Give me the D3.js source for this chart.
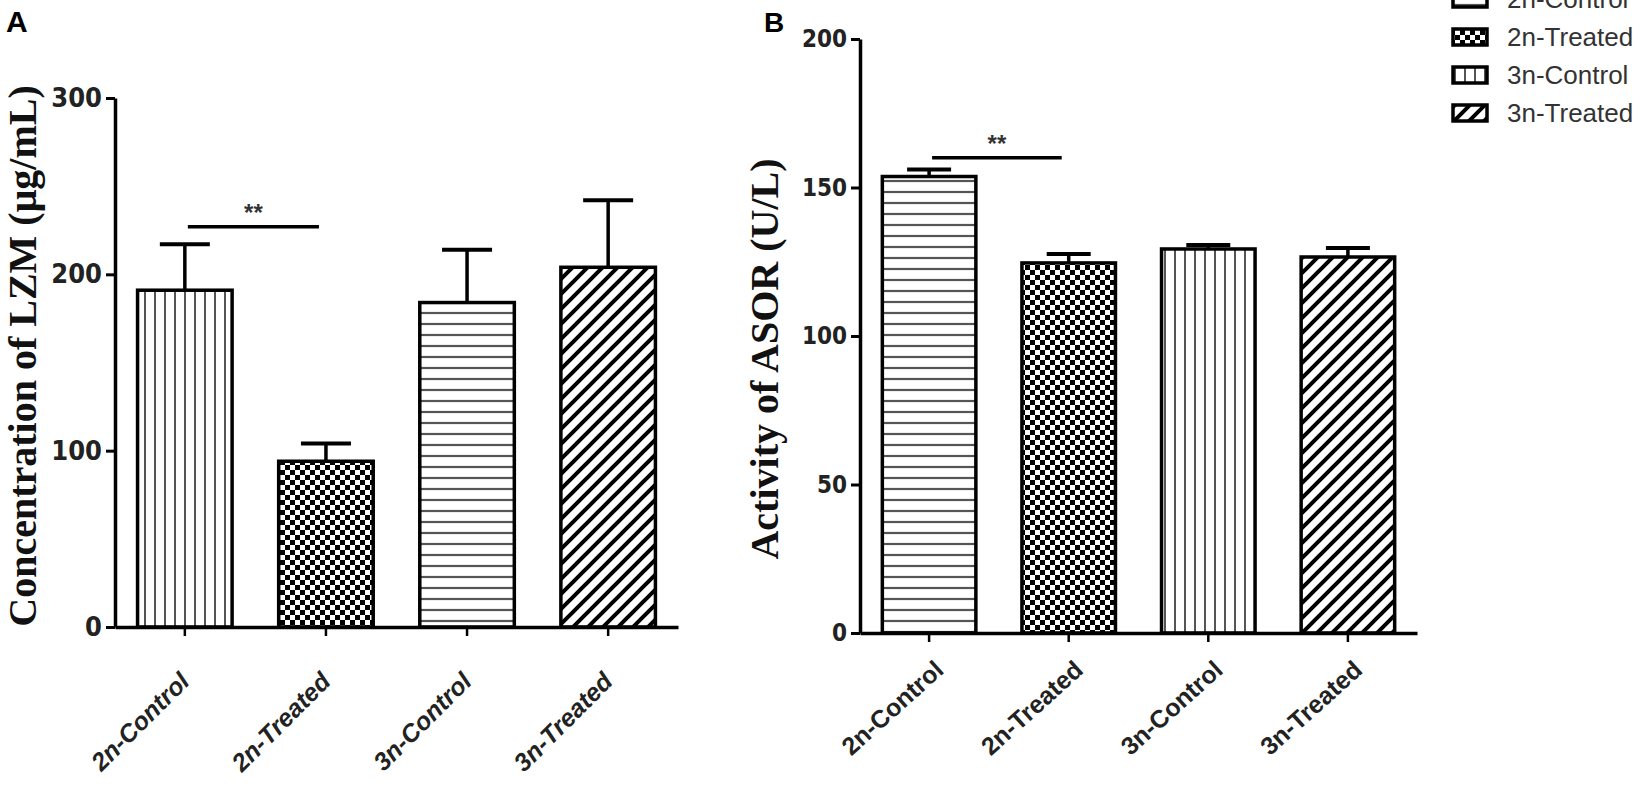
<!DOCTYPE html>
<html lang="en">
<head>
  <meta charset="UTF-8">
  <title>LZM and ASOR</title>
  <script src="https://d3js.org/d3.v7.min.js"></script>
  <style>
    body { margin: 0; padding: 0; background: #fff; }
    svg { display: block; }
    .tick-lbl { font-family: "Liberation Sans", Arial, sans-serif; font-weight: bold; fill: #222; }
    .ynum { font-family: "Liberation Sans Narrow", "DejaVu Sans Condensed", "Liberation Sans", Arial, sans-serif; font-weight: bold; fill: #222; }
    .ytitle { font-family: "Liberation Serif", "Times New Roman", serif; font-weight: bold; font-size: 40px; fill: #111; }
  </style>
</head>
<body>
<div id="chart"></div>
<script>
  // groups and values
  const groups = ["2n-Control", "2n-Treated", "3n-Control", "3n-Treated"];

  const lzmMean = [191, 94, 184, 204];
  const lzmErr = [26, 10, 30, 38];
  const lzmTicks = [0, 100, 200, 300];
  const lzmPatterns = ["vlines", "checker", "hlines", "diag"];

  const asorMean = [153.7, 124.6, 129.3, 126.6];
  const asorErr = [2.4, 3.0, 1.3, 3.0];
  const asorTicks = [0, 50, 100, 150, 200];
  const asorPatterns = ["hlines", "checker", "vlines", "diag"];

  const legendLabels = ["2n-Control", "2n-Treated", "3n-Control", "3n-Treated"];
  const legendPatterns = ["hlines", "checker", "vlines", "diag"];

  const svg = d3.select("#chart").append("svg")
    .attr("width", 1640)
    .attr("height", 786);

  // fill patterns
  const defs = svg.append("defs");

  const pv = defs.append("pattern").attr("id", "vlines")
    .attr("patternUnits", "userSpaceOnUse").attr("width", 10).attr("height", 10);
  pv.append("rect").attr("width", 10).attr("height", 10).attr("fill", "#fff");
  pv.append("line").attr("x1", 5).attr("x2", 5).attr("y1", 0).attr("y2", 10)
    .attr("stroke", "#555").attr("stroke-width", 2);

  const ph = defs.append("pattern").attr("id", "hlines")
    .attr("patternUnits", "userSpaceOnUse").attr("width", 10).attr("height", 11);
  ph.append("rect").attr("width", 10).attr("height", 11).attr("fill", "#fff");
  ph.append("line").attr("x1", 0).attr("x2", 10).attr("y1", 5).attr("y2", 5)
    .attr("stroke", "#555").attr("stroke-width", 2.2);

  const pc = defs.append("pattern").attr("id", "checker")
    .attr("patternUnits", "userSpaceOnUse").attr("width", 10).attr("height", 10);
  pc.append("rect").attr("width", 10).attr("height", 10).attr("fill", "#fff");
  pc.append("rect").attr("x", 0).attr("y", 0).attr("width", 5).attr("height", 5).attr("fill", "#000");
  pc.append("rect").attr("x", 5).attr("y", 5).attr("width", 5).attr("height", 5).attr("fill", "#000");

  const pd = defs.append("pattern").attr("id", "diag")
    .attr("patternUnits", "userSpaceOnUse").attr("width", 15).attr("height", 15);
  pd.append("rect").attr("width", 15).attr("height", 15).attr("fill", "#fff");
  pd.append("path").attr("d", "M0,15L15,0M-4,4L4,-4M11,19L19,11")
    .attr("stroke", "#000").attr("stroke-width", 4);

  function drawPanel(o) {
    const x = d3.scaleBand().domain(groups).range([o.left, o.right])
      .paddingInner(0.33).paddingOuter(0.16);
    const y = d3.scaleLinear().domain([0, o.max]).range([o.bottom, o.top]);
    const g = svg.append("g");

    // bars
    g.selectAll(".bar").data(o.mean).enter().append("rect")
      .attr("x", (d, i) => x(groups[i]))
      .attr("y", d => y(d))
      .attr("width", x.bandwidth())
      .attr("height", d => y(0) - y(d))
      .attr("fill", (d, i) => "url(#" + o.patterns[i] + ")")
      .attr("stroke", "#000")
      .attr("stroke-width", 3.5);

    // error bars (upper only)
    const cx = i => x(groups[i]) + x.bandwidth() / 2;
    g.selectAll(".eb").data(o.mean).enter().append("line")
      .attr("x1", (d, i) => cx(i)).attr("x2", (d, i) => cx(i))
      .attr("y1", d => y(d)).attr("y2", (d, i) => y(d + o.err[i]))
      .attr("stroke", "#000").attr("stroke-width", 3.5);
    g.selectAll(".cap").data(o.mean).enter().append("line")
      .attr("x1", (d, i) => cx(i) - o.cap).attr("x2", (d, i) => cx(i) + o.cap)
      .attr("y1", (d, i) => y(d + o.err[i])).attr("y2", (d, i) => y(d + o.err[i]))
      .attr("stroke", "#000").attr("stroke-width", 4);

    // significance line
    g.append("line")
      .attr("x1", cx(0) + 3).attr("x2", cx(1) - 7)
      .attr("y1", y(o.sig)).attr("y2", y(o.sig))
      .attr("stroke", "#000").attr("stroke-width", 3.5);
    g.append("text")
      .attr("x", (cx(0) + cx(1)) / 2 - 2)
      .attr("y", y(o.sig) - 6)
      .attr("text-anchor", "middle")
      .attr("font-family", "Liberation Sans, Arial, sans-serif")
      .attr("font-weight", "bold")
      .attr("font-size", 24)
      .attr("fill", "#333")
      .text("**");

    // y axis
    const ya = g.append("g").attr("transform", "translate(" + o.left + ",0)")
      .call(d3.axisLeft(y).tickValues(o.ticks).tickSize(9).tickSizeOuter(0).tickPadding(4));
    ya.select(".domain").attr("stroke", "#000").attr("stroke-width", 3.5);
    ya.selectAll(".tick line").attr("stroke", "#000").attr("stroke-width", 3);
    ya.selectAll(".tick text").attr("class", "ynum").attr("font-size", o.yFont);

    // x axis
    const xa = g.append("g").attr("transform", "translate(0," + o.bottom + ")")
      .call(d3.axisBottom(x).tickSize(9).tickSizeOuter(0));
    xa.select(".domain").attr("stroke", "#000").attr("stroke-width", 3.5);
    xa.selectAll(".tick line").attr("stroke", "#000").attr("stroke-width", 2.5);
    xa.selectAll(".tick text")
      .attr("class", "tick-lbl")
      .attr("font-size", o.xFont)
      .attr("font-style", o.italic ? "italic" : "normal")
      .attr("text-anchor", "end")
      .attr("dy", 0)
      .attr("y", 0)
      .attr("transform", "translate(" + o.xLblDx + "," + o.xLblDy + ") rotate(" + o.angle + ")");

    // y title
    svg.append("text").attr("class", "ytitle")
      .attr("text-anchor", "middle")
      .attr("transform", "translate(" + o.titleX + "," + o.titleY + ") rotate(-90)")
      .text(o.title);

    // panel letter
    svg.append("text")
      .attr("x", o.letterX).attr("y", 32)
      .attr("font-family", "Liberation Sans, Arial, sans-serif")
      .attr("font-weight", "bold")
      .attr("font-size", o.letterSize)
      .attr("fill", "#000")
      .text(o.letter);
  }

  drawPanel({
    left: 115, right: 678, top: 98, bottom: 627, max: 300,
    mean: lzmMean, err: lzmErr, ticks: lzmTicks, patterns: lzmPatterns,
    sig: 227, cap: 25, yFont: 27, xFont: 25, italic: true, angle: -45, xLblDx: 6, xLblDy: 56,
    title: "Concentration of LZM (μg/mL)", titleX: 36, titleY: 356,
    letter: "A", letterX: 6, letterSize: 30
  });

  drawPanel({
    left: 860, right: 1417, top: 39, bottom: 633, max: 200,
    mean: asorMean, err: asorErr, ticks: asorTicks, patterns: asorPatterns,
    sig: 160, cap: 22, yFont: 24, xFont: 25, italic: false, angle: -42, xLblDx: 16, xLblDy: 39,
    title: "Activity of ASOR (U/L)", titleX: 778, titleY: 359,
    letter: "B", letterX: 764, letterSize: 28
  });

  // legend
  const ly = d3.scalePoint().domain(legendLabels).range([-1, 113]);
  const leg = svg.append("g");
  leg.selectAll("rect").data(legendLabels).enter().append("rect")
    .attr("x", 1453).attr("y", d => ly(d) - 8)
    .attr("width", 34).attr("height", 16)
    .attr("fill", (d, i) => "url(#" + legendPatterns[i] + ")")
    .attr("stroke", "#000").attr("stroke-width", 3.5);
  leg.selectAll("text").data(legendLabels).enter().append("text")
    .attr("x", 1507).attr("y", d => ly(d) + 9)
    .attr("font-family", "Liberation Sans, Arial, sans-serif")
    .attr("font-size", 26)
    .attr("fill", "#333")
    .text(d => d);
</script>
</body>
</html>
